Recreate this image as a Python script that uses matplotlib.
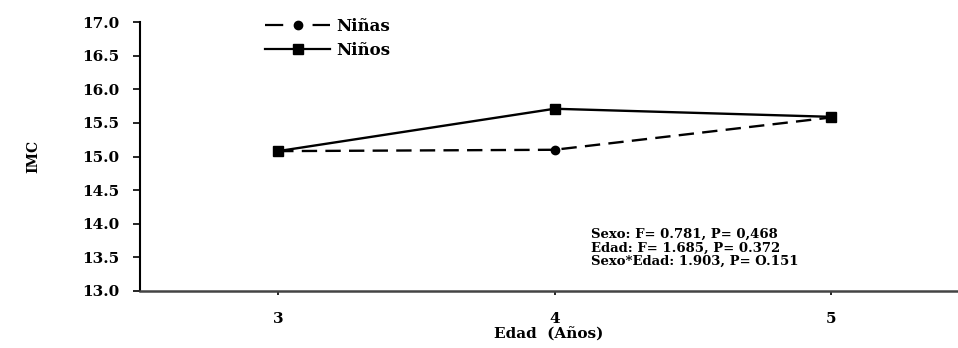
import matplotlib
matplotlib.use("Agg")
import matplotlib.pyplot as plt
from matplotlib.lines import Line2D

edad = [3, 4, 5]
imc_ninas = [15.08, 15.10, 15.58]
imc_ninos = [15.08, 15.71, 15.59]
y_ticks = [13.0, 13.5, 14.0, 14.5, 15.0, 15.5, 16.0, 16.5, 17.0]
stats_lines = ["Sexo: F= 0.781, P= 0,468",
               "Edad: F= 1.685, P= 0.372",
               "Sexo*Edad: 1.903, P= O.151"]

plt.rcParams['font.family'] = 'DejaVu Serif'
plt.rcParams['font.weight'] = 'bold'

fig = plt.figure(figsize=(9.58, 3.48), dpi=100)
ax = fig.add_axes([140 / 958, 1 - 291 / 348, 1 - 140 / 958, (291 - 22) / 348])

ax.plot(edad, imc_ninas, color='black', linestyle=(0, (6.5, 3.5)), linewidth=1.7,
        marker='o', markersize=6)
ax.plot(edad, imc_ninos, color='black', linestyle='-', linewidth=1.7,
        marker='s', markersize=7)

ax.set_xlim(2.5, 5.46)
ax.set_ylim(13.0, 17.0)
ax.set_xticks(edad)
ax.set_yticks(y_ticks)
ax.set_yticklabels(['%.1f' % v for v in y_ticks])
ax.tick_params(axis='both', labelsize=11, width=1.2, direction='out')
ax.tick_params(axis='y', length=5, pad=10)
ax.tick_params(axis='x', length=3, pad=12)

for side in ['top', 'right']:
    ax.spines[side].set_visible(False)
ax.spines['left'].set_linewidth(1.5)
ax.spines['bottom'].set_linewidth(1.8)
ax.spines['bottom'].set_color('#444444')

ax.set_ylabel('IMC', fontsize=10, fontweight='bold', labelpad=30)
ax.set_xlabel('Edad  (Años)', fontsize=11, fontweight='bold', labelpad=1)

# legend keys: one dash either side of the marker
handles = [Line2D([], [], color='black', linestyle=(0, (8.2, 13.2)), linewidth=1.6,
                  marker='o', markersize=6),
           Line2D([], [], color='black', linestyle='-', linewidth=1.6,
                  marker='s', markersize=7)]
ax.legend(handles, ['Niñas', 'Niños'], loc='upper left',
          bbox_to_anchor=(0.135, 1.07), frameon=False,
          handlelength=3.9, handletextpad=0.35, labelspacing=0.4,
          prop={'weight': 'bold', 'size': 12})

ax.text(0.551, 0.235, "\n".join(stats_lines), transform=ax.transAxes,
        fontsize=9.5, fontweight='bold', va='top', ha='left', linespacing=1.05)

fig.savefig('out.png', dpi=100)
